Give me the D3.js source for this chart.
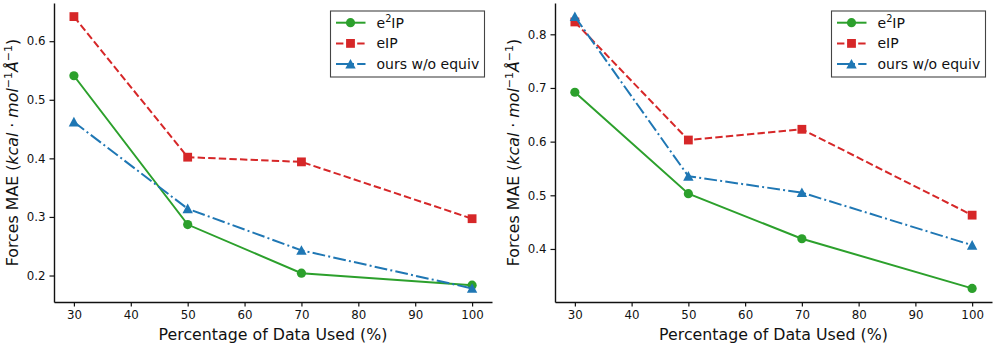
<!DOCTYPE html>
<html>
<head>
<meta charset="utf-8">
<script src="https://cdn.jsdelivr.net/npm/d3@7"></script>
<style>
  body { margin: 0; background: #fff; }
  svg { display: block; font-family: "DejaVu Sans", sans-serif; }
</style>
</head>
<body>
<div id="chart"></div>
<script>
// Data
const percentages = [30, 50, 70, 100];
const xTicks = [30, 40, 50, 60, 70, 80, 90, 100];

const leftE2IP = [0.541, 0.287, 0.204, 0.1835];
const leftEIP = [0.642, 0.402, 0.394, 0.297];
const leftOurs = [0.462, 0.314, 0.243, 0.178];
const leftYTicks = [0.2, 0.3, 0.4, 0.5, 0.6];

const rightE2IP = [0.692, 0.503, 0.419, 0.3265];
const rightEIP = [0.823, 0.603, 0.623, 0.463];
const rightOurs = [0.833, 0.5355, 0.505, 0.407];
const rightYTicks = [0.4, 0.5, 0.6, 0.7, 0.8];

const seriesNames = ['e2IP', 'eIP', 'ours w/o equiv'];
const seriesColors = ['#2ca02c', '#d62728', '#1f77b4'];
const seriesDash = [null, '7.4,3.2', '12.8,3.2,2,3.2'];
const seriesMarker = ['circle', 'square', 'triangle'];

const width = 996, height = 347;
const svg = d3.select('#chart').append('svg')
  .attr('width', width)
  .attr('height', height);

function drawMarker(g, type, x, y, color) {
  if (type === 'circle') {
    g.append('circle').attr('cx', x).attr('cy', y).attr('r', 4.6).attr('fill', color);
  } else if (type === 'square') {
    g.append('rect').attr('x', x - 4.4).attr('y', y - 4.4)
      .attr('width', 8.8).attr('height', 8.8).attr('fill', color);
  } else {
    const s = 5.2;
    g.append('path')
      .attr('d', `M${x},${y - s}L${x + s},${y + s * 0.85}L${x - s},${y + s * 0.85}Z`)
      .attr('fill', color);
  }
}

function drawPanel(opts) {
  const { left, right, top, bottom, series, yTicks, legendX } = opts;

  const allVals = series.flat();
  const yMin = d3.min(allVals), yMax = d3.max(allVals);
  const yPad = (yMax - yMin) * 0.05;
  const xPad = (100 - 30) * 0.05;

  const x = d3.scaleLinear().domain([30 - xPad, 100 + xPad]).range([left, right]);
  const y = d3.scaleLinear().domain([yMin - yPad, yMax + yPad]).range([bottom, top]);

  const g = svg.append('g');

  // axes
  const xAxis = d3.axisBottom(x).tickValues(xTicks).tickSize(4.5).tickPadding(4).tickSizeOuter(0);
  const yAxis = d3.axisLeft(y).tickValues(yTicks).tickFormat(d3.format('.1f'))
    .tickSize(4.5).tickPadding(4).tickSizeOuter(0);

  g.append('g')
    .attr('transform', `translate(0,${bottom})`)
    .call(xAxis)
    .call(a => a.selectAll('text').attr('font-size', '11.8px').attr('fill', '#111')
      .attr('font-family', '"DejaVu Sans", sans-serif'))
    .call(a => a.selectAll('line').attr('stroke', '#111').attr('stroke-width', 1.2))
    .call(a => a.select('.domain').attr('stroke', '#111').attr('stroke-width', 1.4));

  g.append('g')
    .attr('transform', `translate(${left},0)`)
    .call(yAxis)
    .call(a => a.selectAll('text').attr('font-size', '11.8px').attr('fill', '#111')
      .attr('font-family', '"DejaVu Sans", sans-serif'))
    .call(a => a.selectAll('line').attr('stroke', '#111').attr('stroke-width', 1.2))
    .call(a => a.select('.domain').attr('stroke', '#111').attr('stroke-width', 1.4));

  // x label
  g.append('text')
    .attr('x', (left + right) / 2)
    .attr('y', bottom + 38)
    .attr('text-anchor', 'middle')
    .attr('font-size', '15.8px')
    .attr('fill', '#111')
    .text('Percentage of Data Used (%)');

  // y label with math part
  const yl = g.append('text')
    .attr('transform', `translate(${left - 36},${(top + bottom) / 2}) rotate(-90)`)
    .attr('text-anchor', 'middle')
    .attr('font-size', '15.8px')
    .attr('fill', '#111');
  yl.append('tspan').text('Forces MAE (');
  yl.append('tspan').attr('font-style', 'italic').text('kcal');
  yl.append('tspan').text(' · ');
  yl.append('tspan').attr('font-style', 'italic').text('mol');
  yl.append('tspan').attr('font-size', '11px').attr('dy', -6).text('−1');
  yl.append('tspan').attr('font-style', 'italic').attr('dy', 6).text('Å');
  yl.append('tspan').attr('font-size', '11px').attr('dy', -6).text('−1');
  yl.append('tspan').attr('dy', 6).text(')');

  // lines and markers
  const line = d3.line().x((d, i) => x(percentages[i])).y(d => y(d));
  series.forEach((vals, si) => {
    const sg = g.append('g');
    sg.append('path')
      .datum(vals)
      .attr('d', line)
      .attr('fill', 'none')
      .attr('stroke', seriesColors[si])
      .attr('stroke-width', 2)
      .attr('stroke-dasharray', seriesDash[si]);
    vals.forEach((v, i) => drawMarker(sg, seriesMarker[si], x(percentages[i]), y(v), seriesColors[si]));
  });

  // legend
  const lw = 154, lh = 66, lt = 11;
  const lg = g.append('g');
  lg.append('rect')
    .attr('x', legendX).attr('y', lt)
    .attr('width', lw).attr('height', lh)
    .attr('fill', '#fff')
    .attr('stroke', '#444')
    .attr('stroke-width', 1.1);
  seriesNames.forEach((name, i) => {
    const cy = lt + 11.7 + i * 20.7;
    lg.append('line')
      .attr('x1', legendX + 5.5).attr('x2', legendX + 35)
      .attr('y1', cy).attr('y2', cy)
      .attr('stroke', seriesColors[i])
      .attr('stroke-width', 2)
      .attr('stroke-dasharray', seriesDash[i]);
    drawMarker(lg, seriesMarker[i], legendX + 20, cy, seriesColors[i]);
    const t = lg.append('text')
      .attr('x', legendX + 46)
      .attr('y', cy + 5)
      .attr('font-size', '14px')
      .attr('fill', '#111');
    if (i === 0) {
      t.append('tspan').text('e');
      t.append('tspan').attr('font-size', '9.8px').attr('dy', -5.5).text('2');
      t.append('tspan').attr('dy', 5.5).text('IP');
    } else {
      t.text(name);
    }
  });
}

drawPanel({
  left: 54, right: 492, top: 3, bottom: 302,
  series: [leftE2IP, leftEIP, leftOurs],
  yTicks: leftYTicks,
  legendX: 330.5
});

drawPanel({
  left: 555, right: 992, top: 3, bottom: 302,
  series: [rightE2IP, rightEIP, rightOurs],
  yTicks: rightYTicks,
  legendX: 831.5
});
</script>
</body>
</html>
